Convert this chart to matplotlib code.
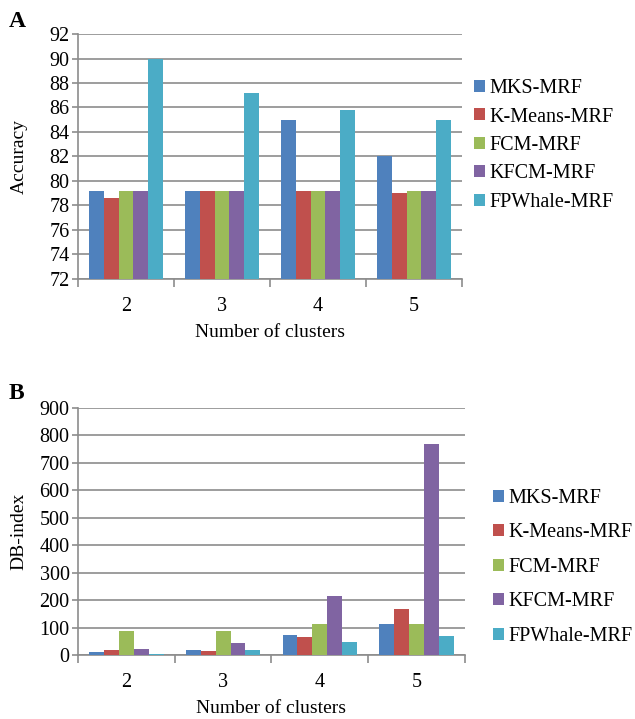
import numpy as np
import matplotlib
matplotlib.use("Agg")
import matplotlib.pyplot as plt

plt.rcParams['font.family'] = ['Liberation Serif', 'DejaVu Serif']

clusters = ['2', '3', '4', '5']
methods = ['MKS-MRF', 'K-Means-MRF', 'FCM-MRF', 'KFCM-MRF', 'FPWhale-MRF']
colors = ['#4F81BD', '#C0504D', '#9BBB59', '#8064A2', '#4BACC6']

# panel A - accuracy
acc_mks = [79.2, 79.2, 85.0, 82.0]
acc_kmeans = [78.6, 79.2, 79.2, 79.0]
acc_fcm = [79.2, 79.2, 79.2, 79.2]
acc_kfcm = [79.2, 79.2, 79.2, 79.2]
acc_fpwhale = [90.0, 87.2, 85.8, 85.0]

# panel B - DB-index
db_mks = [10, 17, 74, 114]
db_kmeans = [20, 16, 65, 166]
db_fcm = [88, 88, 112, 113]
db_kfcm = [22, 42, 216, 770]
db_fpwhale = [5, 20, 47, 68]

grid_col = '#8c8c8c'


def draw_panel(ax, series, ymin, ymax, ystep, ylabel):
    x = np.arange(len(clusters))
    w = 0.154
    handles = []
    for i, vals in enumerate(series):
        off = (i - 2) * w
        b = ax.bar(x + off, np.array(vals) - ymin, w, bottom=ymin,
                   color=colors[i], label=methods[i], zorder=3)
        handles.append(b)
    ax.set_xlim(-0.5, len(clusters) - 0.5)
    ax.set_ylim(ymin, ymax)
    ax.set_yticks(np.arange(ymin, ymax + ystep / 2, ystep))
    ax.yaxis.grid(True, color=grid_col, linewidth=1.2, zorder=0)
    ax.set_axisbelow(True)
    # category boundaries as major ticks, labels at centres
    ax.set_xticks(np.arange(-0.5, len(clusters)), minor=False)
    ax.set_xticklabels([])
    ax.set_xticks(x, minor=True)
    ax.set_xticklabels(clusters, minor=True)
    ax.tick_params(axis='x', which='major', length=6, width=1.2, color=grid_col, direction='out')
    ax.tick_params(axis='x', which='minor', length=0, pad=13, labelsize=14.5)
    ax.tick_params(axis='y', length=4, width=1.2, color=grid_col, labelsize=14.5, pad=2)
    for s in ['top', 'right']:
        ax.spines[s].set_visible(False)
    for s in ['left', 'bottom']:
        ax.spines[s].set_color(grid_col)
        ax.spines[s].set_linewidth(1.2)
    ax.set_xlabel('Number of clusters', fontsize=14, labelpad=6)
    ax.set_ylabel(ylabel, fontsize=14)
    ax.yaxis.set_label_coords(-0.131, 0.5)
    return handles


fig = plt.figure(figsize=(6.35, 7.19), dpi=100)

leg_kw = dict(loc='upper left', frameon=False, fontsize=14.5,
              handlelength=0.55, handleheight=0.55, borderpad=0, borderaxespad=0)

axA = fig.add_axes([0.1228, 0.612, 0.6047, 0.3407])
hA = draw_panel(axA, [acc_mks, acc_kmeans, acc_fcm, acc_kfcm, acc_fpwhale],
                72, 92, 2, 'Accuracy')
fig.legend(handles=hA, labels=methods, bbox_to_anchor=(0.746, 0.89),
           handletextpad=0.25, labelspacing=0.47, **leg_kw)

axB = fig.add_axes([0.1228, 0.089, 0.6094, 0.3436])
hB = draw_panel(axB, [db_mks, db_kmeans, db_fcm, db_kfcm, db_fpwhale],
                0, 900, 100, 'DB-index')
fig.legend(handles=hB, labels=methods, bbox_to_anchor=(0.776, 0.32),
           handletextpad=0.25, labelspacing=0.77, **leg_kw)

fig.text(0.014, 0.985, 'A', fontsize=17, fontweight='bold', va='top')
fig.text(0.014, 0.468, 'B', fontsize=17, fontweight='bold', va='top')

fig.savefig('out.png', dpi=100)
